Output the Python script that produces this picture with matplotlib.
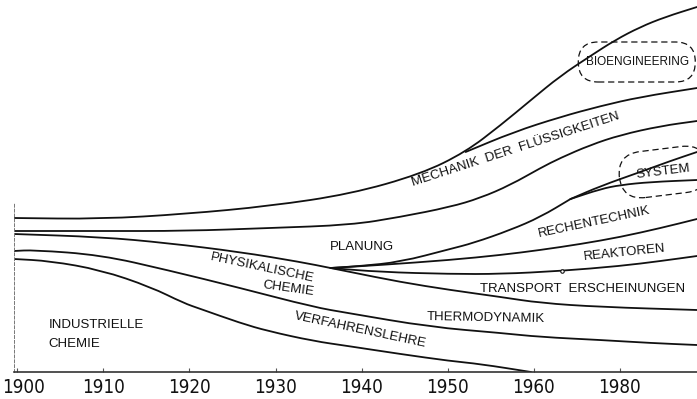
import numpy as np
import matplotlib
matplotlib.use("Agg")
import matplotlib.pyplot as plt
import matplotlib.transforms as mtransforms
from matplotlib.path import Path
from matplotlib.patches import PathPatch, FancyBboxPatch

plt.rcParams['font.family'] = ['Liberation Sans', 'DejaVu Sans']

# x axis: decade positions (the last tick is labelled 1980 in the original)
tick_pos = [0, 1, 2, 3, 4, 5, 6, 7]
tick_labels = ['1900', '1910', '1920', '1930', '1940', '1950', '1960', '1980']

# boundary curves (x = decade position, y = relative share height)
top_x = [-0.04, 0.97, 1.95, 2.94, 3.87, 4.69, 5.21, 5.62, 5.97, 6.31, 6.66, 6.95, 7.24, 7.53, 7.90]
top_y = [154, 153, 158, 166, 178, 198, 220, 247, 272, 296, 316, 332, 345, 355, 365]

bio_low_x = [5.21, 5.77, 6.31, 6.78, 7.24, 7.90]
bio_low_y = [220, 240, 255, 266, 275, 284]

mech_low_x = [-0.04, 0.97, 1.95, 2.94, 3.87, 4.45, 5.03, 5.38, 5.73, 6.08, 6.31, 6.66, 7.01, 7.48, 7.90]
mech_low_y = [141, 141, 141, 144, 147, 155, 165, 174, 187, 204, 214, 227, 237, 246, 251]

plan_low_x = [-0.04, 0.97, 1.74, 2.59, 3.29, 3.64, 3.87, 4.45, 5.03, 5.62, 6.08, 6.78, 7.90]
plan_low_y = [138, 135, 129, 120, 110, 104, 100, 90, 82, 75, 69, 65, 62]

rech_up_x = [3.64, 3.99, 4.45, 5.03, 5.30, 5.73, 6.08, 6.43]
rech_up_y = [104, 106, 110, 123, 129, 142, 155, 173]

sys_up_x = [6.43, 6.78, 7.24, 7.59, 7.90]
sys_up_y = [173, 186, 200, 211, 220]
sys_low_x = [6.43, 6.78, 7.01, 7.36, 7.90]
sys_low_y = [173, 183, 187, 190, 192]

rech_low_x = [3.64, 4.22, 5.03, 5.62, 6.08, 6.55, 7.01, 7.48, 7.90]
rech_low_y = [104, 107, 112, 117, 122, 128, 135, 144, 153]

reak_low_x = [3.64, 4.22, 5.03, 5.62, 6.31, 7.01, 7.48, 7.90]
reak_low_y = [104, 100, 98, 98, 101, 106, 111, 116]

thermo_low_x = [-0.04, 0.19, 0.97, 1.74, 2.59, 3.44, 3.84, 4.80, 5.62, 6.08, 6.78, 7.36, 7.90]
thermo_low_y = [121, 122, 117, 102, 84, 65, 59, 45, 39, 35, 32, 29, 27]

verf_low_x = [-0.04, 0.38, 0.97, 1.55, 1.93, 2.13, 2.59, 2.91, 3.44, 3.84, 4.45, 5.03, 5.38, 5.97]
verf_low_y = [113, 111, 102, 85, 69, 63, 49, 41, 31, 26, 18, 11, 8, 0]


def smooth_path(xs, ys):
    pts = np.column_stack([xs, ys]).astype(float)
    mids = (pts[:-1] + pts[1:]) / 2
    verts = [pts[0], mids[0]]
    codes = [Path.MOVETO, Path.LINETO]
    for i in range(1, len(pts) - 1):
        verts += [pts[i], mids[i]]
        codes += [Path.CURVE3, Path.CURVE3]
    verts.append(pts[-1])
    codes.append(Path.LINETO)
    return Path(verts, codes)


fig = plt.figure(figsize=(6.97, 3.99), dpi=100)
ax = fig.add_axes([14 / 697, 27 / 399, 683 / 697, 372 / 399])
ax.set_xlim(-0.04, 7.90)
ax.set_ylim(0, 372)

curves = [(top_x, top_y), (bio_low_x, bio_low_y), (mech_low_x, mech_low_y),
          (plan_low_x, plan_low_y), (rech_up_x, rech_up_y), (sys_up_x, sys_up_y),
          (sys_low_x, sys_low_y), (rech_low_x, rech_low_y), (reak_low_x, reak_low_y),
          (thermo_low_x, thermo_low_y), (verf_low_x, verf_low_y)]
for xs, ys in curves:
    ax.add_patch(PathPatch(smooth_path(xs, ys), fill=False, lw=1.3,
                           edgecolor='#111111', capstyle='round'))

# small mark on the Reaktoren line
ax.plot([6.33], [101], marker='o', ms=2.5, mfc='white', mec='#111111', mew=0.8)

# axes
for s in ['top', 'right']:
    ax.spines[s].set_visible(False)
ax.spines['bottom'].set_color('#333333')
ax.spines['bottom'].set_linewidth(1.2)
ax.spines['left'].set_bounds(0, 170)
ax.spines['left'].set_linestyle((0, (3, 2)))
ax.spines['left'].set_linewidth(0.7)
ax.spines['left'].set_color('#777777')
ax.set_yticks([])
ax.set_xticks(tick_pos)
ax.set_xticklabels(tick_labels, family='DejaVu Sans', fontstretch='condensed')
ax.tick_params(axis='x', direction='in', length=3, width=0.8, color='#555555',
               labelsize=13.5, pad=4, labelcolor='#111111')
# nudge the first year label inside the figure
first = ax.get_xticklabels()[0]
first.set_transform(first.get_transform() +
                    mtransforms.ScaledTranslation(6 / 100, 0, fig.dpi_scale_trans))

# dashed stadium around BIOENGINEERING (aspect corrected for the data scale)
ax.add_patch(FancyBboxPatch((6.52, 290), 1.36, 40,
                            boxstyle='round,pad=0,rounding_size=0.23',
                            mutation_aspect=86, fill=False, ec='#111111',
                            ls=(0, (5, 3)), lw=0.9))

# region labels
lab = dict(fontsize=9.5, color='#111111', ha='center', va='center')
ax.text(7.21, 310, 'BIOENGINEERING', fontsize=8.5, color='#111111', ha='center', va='center')
ax.text(5.79, 222, 'MECHANIK  DER  FLÜSSIGKEITEN', rotation=18, **lab)
ax.text(7.51, 200, 'SYSTEM', rotation=7, fontsize=9.5, color='#111111', ha='center', va='center',
        bbox=dict(boxstyle='round,pad=1.3,rounding_size=1.8', fc='none', ec='#111111',
                  ls=(0, (5, 3)), lw=0.9))
ax.text(6.71, 150, 'RECHENTECHNIK', rotation=12, **lab)
ax.text(4.01, 125, 'PLANUNG', **lab)
ax.text(7.06, 119, 'REAKTOREN', rotation=6, **lab)
ax.text(6.57, 83, 'TRANSPORT  ERSCHEINUNGEN', **lab)
ax.text(5.44, 54, 'THERMODYNAMIK', rotation=-1, **lab)
ax.text(3.99, 42, 'VERFAHRENSLEHRE', rotation=-12, **lab)
ax.text(2.85, 104, 'PHYSIKALISCHE', rotation=-12, **lab)
ax.text(3.15, 83, 'CHEMIE', rotation=-8, **lab)
ax.text(0.36, 47, 'INDUSTRIELLE', fontsize=9.5, color='#111111', ha='left', va='center')
ax.text(0.36, 28, 'CHEMIE', fontsize=9.5, color='#111111', ha='left', va='center')

fig.savefig('out.png', dpi=100)
